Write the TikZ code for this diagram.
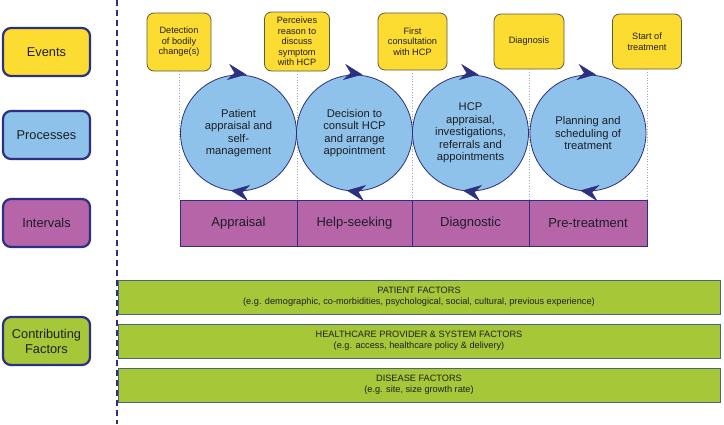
\documentclass[tikz,border=0pt]{standalone}
\usepackage{fontspec}
\setmainfont{Liberation Sans}
\usetikzlibrary{arrows.meta}
\definecolor{evyellow}{RGB}{253,220,50}
\definecolor{procblue}{RGB}{142,194,234}
\definecolor{intpurple}{RGB}{181,101,168}
\definecolor{facgreen}{RGB}{166,200,56}
\definecolor{navy}{RGB}{44,48,128}
\definecolor{evborder}{RGB}{95,90,65}
\definecolor{barborder}{RGB}{70,105,115}
\definecolor{dotcol}{RGB}{150,170,200}
\definecolor{txt}{RGB}{30,30,35}
\tikzset{
  leftbox/.style={draw=navy, line width=2.2pt, rounded corners=8pt, minimum width=87pt, minimum height=48pt, inner sep=0pt, align=center, text=txt, font=\fontsize{12.8}{15}\selectfont},
  evbox/.style={draw=evborder, line width=0.8pt, fill=evyellow, rounded corners=7pt, inner sep=0pt, align=center, text=txt, font=\fontsize{9.2}{10.6}\selectfont},
  procc/.style={circle, draw=navy, line width=0.8pt, fill=procblue, minimum size=116pt, inner sep=0pt, align=center, text=txt, font=\fontsize{11.2}{12.4}\selectfont},
  intbox/.style={draw=navy, line width=0.7pt, fill=intpurple, minimum height=46pt, inner sep=0pt, text=txt, font=\fontsize{13}{15}\selectfont},
  facbar/.style={draw=barborder, line width=1pt, fill=facgreen, minimum width=602pt, minimum height=34pt, inner sep=0pt, align=center, text=txt, font=\fontsize{9.2}{11}\selectfont},
  dotline/.style={draw=dotcol, line width=0.7pt, dotted},
  tipshape/.style={fill=navy, draw=navy, line width=0.5pt, line join=miter},
  sepline/.style={draw=navy, line width=1.5pt, dash pattern=on 6pt off 4pt}
}
\begin{document}
\begin{tikzpicture}[x=1pt, y=-1pt]
\useasboundingbox (0,0) rectangle (724,424);
\fill[white] (0,0) rectangle (724,424);

% separator
\coordinate (st) at (117,0);
\coordinate (sb) at (117,424);
\draw[sepline] (st) -- (sb);

% left labels
\node[leftbox, fill=evyellow] (lev) at (46.5,52) {Events};
\node[leftbox, fill=procblue] (lpr) at (46.5,135) {Processes};
\node[leftbox, fill=intpurple] (lin) at (46.5,223) {Intervals};
\node[leftbox, fill=facgreen] (lcf) at (46.5,341) {Contributing\\Factors};

% intervals
\node[intbox, minimum width=117pt] (i1) at (238.5,223) {Appraisal};
\node[intbox, minimum width=115pt] (i2) at (354.5,223) {Help-seeking};
\node[intbox, minimum width=117pt] (i3) at (470.5,223) {Diagnostic};
\node[intbox, minimum width=118pt] (i4) at (588,223) {Pre-treatment};

% events
\node[evbox, minimum width=64pt, minimum height=58pt] (e1) at (179,42) {Detection\\of bodily\\change(s)};
\node[evbox, minimum width=65pt, minimum height=59pt] (e2) at (297,41.5) {Perceives\\reason to\\discuss\\symptom\\with HCP};
\node[evbox, minimum width=69pt, minimum height=57pt] (e3) at (412.5,41.5) {First\\consultation\\with HCP};
\node[evbox, minimum width=70pt, minimum height=55pt] (e4) at (529,41.5) {Diagnosis};
\node[evbox, minimum width=69pt, minimum height=55pt] (e5) at (647,41.5) {Start of\\treatment};

% dotted lines
\foreach \e in {e1,e2,e3,e4,e5}{
  \draw[dotline] (\e.south) -- (\e.south |- i1.north);
}

% processes
\node[procc] (c1) at (238.5,133) {Patient\\appraisal and\\self-\\management};
\node[procc] (c2) at (354.5,133) {Decision to\\consult HCP\\and arrange\\appointment};
\node[procc] (c3) at (470.5,133) {HCP\\appraisal,\\investigations,\\referrals and\\appointments};
\node[procc] (c4) at (588,133) {Planning and\\scheduling of\\treatment};

% cycle arrow tips
\foreach \c in {c1,c2,c3,c4}{
  \begin{scope}[shift={([shift={(83:59pt)}]\c.center)}, x=1pt, y=1pt, rotate=-8]
    \path[tipshape] (0,0) -- (-17,7.5) -- (-11,0) -- (-17,-7.5) -- cycle;
  \end{scope}
  \begin{scope}[shift={([shift={(263:58pt)}]\c.center)}, x=1pt, y=1pt, rotate=172]
    \path[tipshape] (0,0) -- (-17,7.5) -- (-11,0) -- (-17,-7.5) -- cycle;
  \end{scope}
}

% contributing factors
\node[facbar] (f1) at (419,297) {PATIENT FACTORS\\(e.g. demographic, co-morbidities, psychological, social, cultural, previous experience)};
\node[facbar] (f2) at (419,341) {HEALTHCARE PROVIDER \& SYSTEM FACTORS\\(e.g. access, healthcare policy \& delivery)};
\node[facbar] (f3) at (419,385) {DISEASE FACTORS\\(e.g. site, size growth rate)};
\end{tikzpicture}
\end{document}
